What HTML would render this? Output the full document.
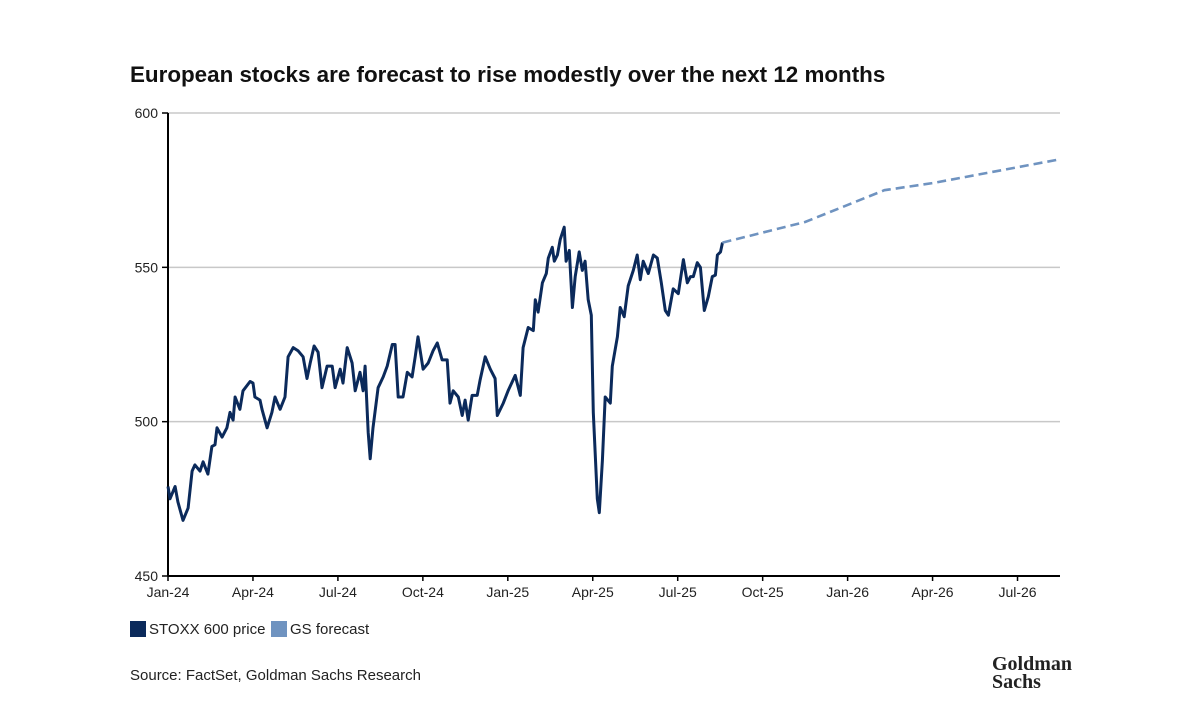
<!DOCTYPE html>
<html><head><meta charset="utf-8"><style>
body{margin:0;background:#fff;font-family:"Liberation Sans",sans-serif;}
#wrap{position:relative;width:1177px;height:717px;overflow:hidden;}
</style></head><body>
<div id="wrap">
<svg id="svg" width="1177" height="717">
<text x="130" y="82" font-size="22.4" font-weight="bold" fill="#111">European stocks are forecast to rise modestly over the next 12 months</text>
<g id="grid"></g><g id="axes"></g><g id="series"></g>
<g>
<rect x="130" y="621" width="16" height="16" fill="#0b2a5b"/>
<text x="149" y="634" font-size="15" fill="#222">STOXX 600 price</text>
<rect x="271" y="621" width="16" height="16" fill="#6f93c0"/>
<text x="290" y="634" font-size="15" fill="#222">GS forecast</text>
</g>
<text x="130" y="680" font-size="15" fill="#222">Source: FactSet, Goldman Sachs Research</text>
<text x="992" y="670" font-size="20" font-weight="bold" fill="#222" font-family="Liberation Serif,serif">Goldman</text>
<text x="992" y="688" font-size="20" font-weight="bold" fill="#222" font-family="Liberation Serif,serif">Sachs</text>
</svg></div>
<script>
const months=[0,.07,.25,.35,.53,.71,.85,.95,1.13,1.24,1.41,1.55,1.66,1.73,1.91,2.08,2.19,2.30,2.37,2.54,2.65,2.90,3.00,3.07,3.25,3.32,3.50,3.67,3.78,3.96,4.13,4.24,4.42,4.59,4.77,4.91,5.02,5.16,5.30,5.44,5.62,5.80,5.90,6.08,6.18,6.33,6.50,6.61,6.78,6.89,6.96,7.07,7.14,7.24,7.42,7.60,7.74,7.92,8.02,8.13,8.30,8.45,8.62,8.73,8.83,9.01,9.19,9.36,9.51,9.68,9.86,9.96,10.07,10.25,10.39,10.49,10.60,10.74,10.92,11.02,11.20,11.38,11.55,11.63,11.84,12.01,12.26,12.44,12.54,12.72,12.90,12.97,13.07,13.22,13.36,13.43,13.57,13.64,13.75,13.85,13.99,14.06,14.17,14.28,14.38,14.52,14.63,14.73,14.84,14.95,15.02,15.16,15.23,15.34,15.44,15.62,15.69,15.87,15.97,16.11,16.25,16.43,16.57,16.68,16.78,16.96,17.14,17.28,17.42,17.56,17.67,17.84,18.02,18.20,18.34,18.45,18.55,18.69,18.80,18.94,19.08,19.22,19.33,19.40,19.51,19.58];
const prices=[479,475,479,474,468,472,484,486,484,487,483,492,492.5,498,495,498,503,500.5,508,504,510,513,512.5,508,507,504,498,503,508,504,508,521,524,523,521,514,519,524.5,522.5,511,518,518,511,517,512.5,524,519,510,516,510,518,496.5,488,498,511,514.5,518,525,525,508,508,516,514.5,521,527.5,517,519,523,525.5,520,520,506,510,508,502,507,500.5,508.5,508.5,513.5,521,517,514,502,506,510,515,508.5,524,530.5,529.5,539.5,535.5,545,548,553,556.5,552,554,559,563,552,555.5,537,547,555,549,552,539.5,534.5,503,475,470.5,487.5,508,506,518,527.5,537,534,544,549,554,546,552,548,554,553,545,536,534.5,543,541.5,552.5,545,547,547,551.5,550,536,540.5,547,547.5,554,555,558];
const fcMonths=[19.58,22.5,25.3,27,31.5];
const fcValues=[558,564.7,575,577.3,585];
const xTickMonths=[0,3,6,9,12,15,18,21,24,27,30];
const xTickLabels=["Jan-24","Apr-24","Jul-24","Oct-24","Jan-25","Apr-25","Jul-25","Oct-25","Jan-26","Apr-26","Jul-26"];
const yTicks=[450,500,550,600];
const X0=168,X1=1060,Y0=576,Y1=113,MMAX=31.5,VMIN=450,VMAX=600;
const xs=m=>X0+(m/MMAX)*(X1-X0);
const ys=v=>Y0-(v-VMIN)/(VMAX-VMIN)*(Y0-Y1);
const NS="http://www.w3.org/2000/svg";
function mk(t,a,p){const e=document.createElementNS(NS,t);for(const k in a)e.setAttribute(k,a[k]);p.appendChild(e);return e;}
const grid=document.getElementById('grid'),axes=document.getElementById('axes'),ser=document.getElementById('series');
yTicks.forEach(v=>{
 if(v>VMIN){const g=mk('line',{x1:X0,x2:X1,y1:ys(v),y2:ys(v),stroke:'#c8c8c8','stroke-width':1.5},grid);
 
 }
 const t=mk('line',{x1:X0-6,x2:X0,y1:ys(v),y2:ys(v),stroke:'#000','stroke-width':1.5},axes);
 
 
 const l=mk('text',{x:X0-10,y:ys(v)+5,'text-anchor':'end','font-size':14,fill:'#222'},axes);l.textContent=v;
 
 
});
const ya=mk('line',{x1:X0,x2:X0,y1:Y1,y2:Y0,stroke:'#000','stroke-width':2},axes);


const xa=mk('line',{x1:X0,x2:X1,y1:Y0,y2:Y0,stroke:'#000','stroke-width':2},axes);


xTickMonths.forEach((m,i)=>{
 const t=mk('line',{x1:xs(m),x2:xs(m),y1:Y0,y2:Y0+5,stroke:'#000','stroke-width':1.5},axes);
 
 
 const l=mk('text',{x:xs(m),y:Y0+21,'text-anchor':'middle','font-size':14,fill:'#222'},axes);l.textContent=xTickLabels[i];
 
 
});
const p1=mk('path',{d:months.map((m,i)=>(i?'L':'M')+xs(m).toFixed(1)+','+ys(prices[i]).toFixed(1)).join(''),fill:'none',stroke:'#0b2a5b','stroke-width':3,'stroke-linejoin':'round'},ser);


const p2=mk('path',{d:fcMonths.map((m,i)=>(i?'L':'M')+xs(m).toFixed(1)+','+ys(fcValues[i]).toFixed(1)).join(''),fill:'none',stroke:'#6f93c0','stroke-width':2.6,'stroke-dasharray':'9,5'},ser);


</script>
</body></html>
